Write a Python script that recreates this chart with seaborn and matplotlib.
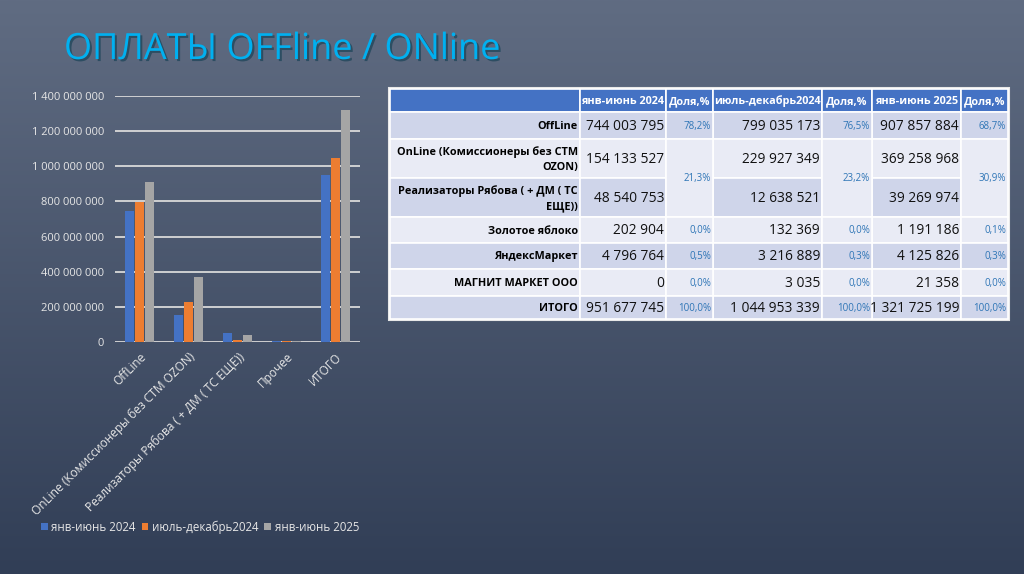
import numpy as np
import pandas as pd
import matplotlib.pyplot as plt
import matplotlib.patheffects as pe
from matplotlib.patches import Rectangle
import seaborn as sns

# ---- data ----
periods = ['янв-июнь 2024', 'июль-декабрь2024', 'янв-июнь 2025']

chart_cats = ['OffLine', 'OnLine (Комиссионеры без СТМ OZON)',
              'Реализаторы Рябова ( + ДМ ( ТС ЕЩЕ))', 'Прочее', 'ИТОГО']
chart_h1_2024 = [744003795, 154133527, 48540753, 4999668, 951677745]
chart_h2_2024 = [799035173, 229927349, 12638521, 3352293, 1044953339]
chart_h1_2025 = [907857884, 369258968, 39269974, 5338370, 1321725199]

row_labels = ['OffLine', 'OnLine (Комиссионеры без СТМ\nOZON)',
              'Реализаторы Рябова ( + ДМ ( ТС\nЕЩЕ))', 'Золотое яблоко',
              'ЯндексМаркет', 'МАГНИТ МАРКЕТ ООО', 'ИТОГО']
tab_h1_2024 = [744003795, 154133527, 48540753, 202904, 4796764, 0, 951677745]
tab_h2_2024 = [799035173, 229927349, 12638521, 132369, 3216889, 3035, 1044953339]
tab_h1_2025 = [907857884, 369258968, 39269974, 1191186, 4125826, 21358, 1321725199]
share_h1_2024 = ['78,2%', '21,3%', '0,0%', '0,5%', '0,0%', '100,0%']
share_h2_2024 = ['76,5%', '23,2%', '0,0%', '0,3%', '0,0%', '100,0%']
share_h1_2025 = ['68,7%', '30,9%', '0,1%', '0,3%', '0,0%', '100,0%']
share_spans = [(0, 0), (1, 2), (3, 3), (4, 4), (5, 5), (6, 6)]

colors = ['#4472c4', '#ed7d31', '#a5a5a5']
FONT = ['Open Sans', 'DejaVu Sans']


def fmt(v):
    return f'{v:,}'.replace(',', ' ')


sns.set_style('white')
plt.rcParams['font.family'] = FONT

W, H = 1024, 574
fig = plt.figure(figsize=(W / 100, H / 100), dpi=100)

# background gradient + table canvas in pixel coords
bg = fig.add_axes([0, 0, 1, 1])
bg.set_xlim(0, W)
bg.set_ylim(H, 0)
bg.axis('off')
top = np.array([0x60, 0x6c, 0x82]) / 255
bot = np.array([0x31, 0x3e, 0x56]) / 255
t = np.linspace(0, 1, 256)[:, None]
grad = (top * (1 - t) + bot * t)[:, None, :]
bg.imshow(grad, extent=[0, W, H, 0], aspect='auto', zorder=0)

# title
fig.text(64 / W, 1 - 50 / H, 'ОПЛАТЫ OFFline / ONline', color='#00b0f0',
         fontsize=26, va='center', ha='left',
         path_effects=[pe.withSimplePatchShadow(offset=(1.5, -1.5), alpha=0.5)])

# ---- table ----
col_x = [390, 580, 666, 713, 822, 872, 961, 1008]
row_y = [89, 112, 139, 178, 217, 243, 269, 296, 319]
dark, light = '#cfd5ea', '#e9ebf5'
band = [dark, light, dark, light, dark, light, dark]


def cell(x0, x1, y0, y1, fc):
    bg.add_patch(Rectangle((x0, y0), x1 - x0, y1 - y0, facecolor=fc,
                           edgecolor='white', lw=1.2, zorder=2))


bg.add_patch(Rectangle((col_x[0] - 1, row_y[0] - 1), col_x[-1] - col_x[0] + 2,
                       row_y[-1] - row_y[0] + 2, facecolor='white',
                       edgecolor='#e8e8e8', lw=1.5, zorder=1))

# header
for c in range(7):
    cell(col_x[c], col_x[c + 1], row_y[0], row_y[1], '#4472c4')
headers = ['', periods[0], 'Доля,%', periods[1], 'Доля,%', periods[2], 'Доля,%']
for c, h in enumerate(headers):
    bg.text((col_x[c] + col_x[c + 1]) / 2, (row_y[0] + row_y[1]) / 2 + 1, h,
            color='white', fontsize=7.8, fontweight='bold', ha='center',
            va='center', zorder=3)

value_cols = [(1, tab_h1_2024), (3, tab_h2_2024), (5, tab_h1_2025)]
share_cols = [(2, share_h1_2024), (4, share_h2_2024), (6, share_h1_2025)]

for r, lab in enumerate(row_labels):
    y0, y1 = row_y[r + 1], row_y[r + 2]
    ym = (y0 + y1) / 2 + 1
    cell(col_x[0], col_x[1], y0, y1, band[r])
    bg.text(col_x[1] - 2, ym, lab, fontsize=7.8, fontweight='bold',
            ha='right', va='center', multialignment='right',
            linespacing=1.5, color='black', zorder=3)
    for c, vals in value_cols:
        cell(col_x[c], col_x[c + 1], y0, y1, band[r])
        bg.text(col_x[c + 1] - 2, ym, fmt(vals[r]), fontsize=9.9,
                ha='right', va='center', color='#111111', zorder=3)

for c, shares in share_cols:
    for (r0, r1), s in zip(share_spans, shares):
        y0, y1 = row_y[r0 + 1], row_y[r1 + 2]
        fc = light if r0 != r1 else band[r0]
        cell(col_x[c], col_x[c + 1], y0, y1, fc)
        bg.text(col_x[c + 1] - 2, (y0 + y1) / 2 + 1, s, fontsize=7,
                ha='right', va='center', color='#2e75b6', zorder=3)

# ---- bar chart ----
df = pd.DataFrame({
    'cat': chart_cats * 3,
    'period': [periods[0]] * 5 + [periods[1]] * 5 + [periods[2]] * 5,
    'value': chart_h1_2024 + chart_h2_2024 + chart_h1_2025,
})

ax = fig.add_axes([115 / W, 1 - 342 / H, 245 / W, 246 / H])
ax.patch.set_alpha(0)
sns.barplot(data=df, x='cat', y='value', hue='period', palette=colors,
            width=0.62, gap=0.12, ax=ax, zorder=3, legend=True,
            linewidth=0, edgecolor='none', saturation=1)
ax.set_ylim(0, 1.4e9)
ax.set_yticks(np.arange(0, 1.4e9 + 1, 2e8))
ax.set_yticklabels([fmt(int(v)) for v in ax.get_yticks()])
ax.yaxis.grid(True, color='#d9d9d9', lw=1.3, zorder=0)
ax.set_axisbelow(True)
for s in ax.spines.values():
    s.set_visible(False)
ax.tick_params(length=0, colors='#e6e6e6', labelsize=8.0, pad=8)
ax.set_xlabel('')
ax.set_ylabel('')
plt.setp(ax.get_xticklabels(), rotation=45, ha='right',
         rotation_mode='anchor', fontsize=8.6)
ax.tick_params(axis='x', pad=6)

handles, labels = ax.get_legend_handles_labels()
ax.get_legend().remove()
fig.legend(handles, labels, loc='center', bbox_to_anchor=(200 / W, 1 - 527 / H),
           ncol=3, frameon=False, fontsize=8.3, labelcolor='#e6e6e6',
           handlelength=0.6, handleheight=0.6, handletextpad=0.3,
           columnspacing=0.5)

fig.savefig('out.png', dpi=100)
